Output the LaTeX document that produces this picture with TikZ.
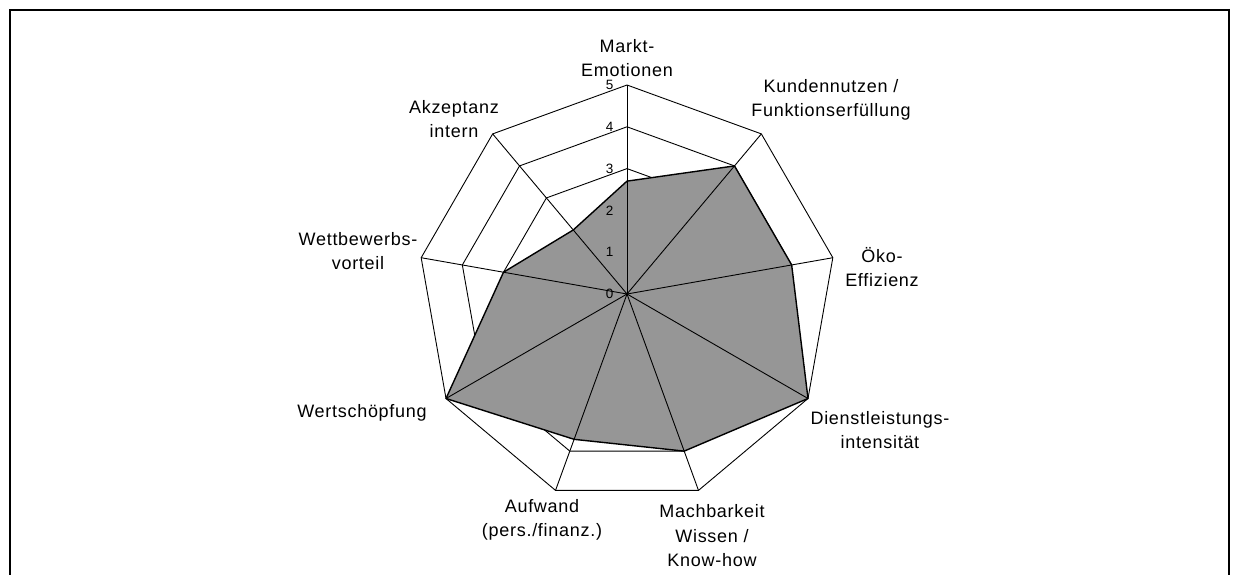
\documentclass[tikz,border=0pt]{standalone}
\usepackage{fontspec}
\setmainfont{Liberation Sans}
\newfontfamily\lblfont[LetterSpace=4]{Liberation Sans}
\definecolor{fillgray}{RGB}{150,150,150}
\begin{document}
\begin{tikzpicture}[x=1pt,y=-1pt,
  lbl/.style={font=\lblfont\fontsize{18}{24.5}\selectfont, align=center, inner sep=0pt},
  ticklbl/.style={font=\fontsize{13.5}{15}\selectfont, inner sep=0pt, anchor=east},
  ring/.style={draw=black, line width=0.9pt},
  spoke/.style={draw=black, line width=0.9pt},
  datapoly/.style={fill=fillgray, draw=black, line width=1.4pt, line join=round},
  frameline/.style={draw=black, line width=2pt}]
\useasboundingbox (0,0) rectangle (1234,575);
\def\cx{627}\def\cy{294}\def\u{41.8}
\coordinate (c) at (\cx,\cy);
\foreach \k in {0,...,8} {
  \coordinate (ax\k) at ({\cx+5*\u*cos(90-40*\k)},{\cy-5*\u*sin(90-40*\k)});
}
% frame
\draw[frameline] (9.5,590) -- (9.5,10) -- (1229,10);
\draw[draw=black, line width=1.3pt] (1229,9) -- (1229,590);
% rings
\foreach \r in {1,...,5} {
  \draw[ring] (\cx,{\cy-\r*\u})
    \foreach \k in {1,...,8} { -- ({\cx+\r*\u*cos(90-40*\k)},{\cy-\r*\u*sin(90-40*\k)}) } -- cycle;
}
% data
\draw[datapoly] (\cx,{\cy-2.7*\u})
  \foreach \k/\v in {1/4,2/4,3/5,4/4,5/3.7,6/5,7/3,8/2} { -- ({\cx+\v*\u*cos(90-40*\k)},{\cy-\v*\u*sin(90-40*\k)}) } -- cycle;
% spokes
\foreach \k in {0,...,8} { \draw[spoke] (c) -- (ax\k); }
% tick labels
\foreach \r in {0,...,5} { \node[ticklbl] (t\r) at (613.5,{\cy-\r*\u}) {\r}; }
% axis labels
\node[lbl] (markt) at (627,58) {Markt-\\Emotionen};
\node[lbl] (kunden) at (831,100) {Kundennutzen /\\Funktionserfüllung};
\node[lbl] (oeko) at (882,267) {Öko-\\Effizienz};
\node[lbl] (dienst) at (880,430) {Dienstleistungs-\\intensität};
\node[lbl] (mach) at (712,536) {Machbarkeit\\Wissen /\\Know-how};
\node[lbl] (aufw) at (542,520) {Aufwand\\(pers./finanz.)};
\node[lbl] (wert) at (362,413) {Wertschöpfung};
\node[lbl] (wettb) at (358,251) {Wettbewerbs-\\vorteil};
\node[lbl] (akz) at (454,119) {Akzeptanz\\intern};
\end{tikzpicture}
\end{document}
